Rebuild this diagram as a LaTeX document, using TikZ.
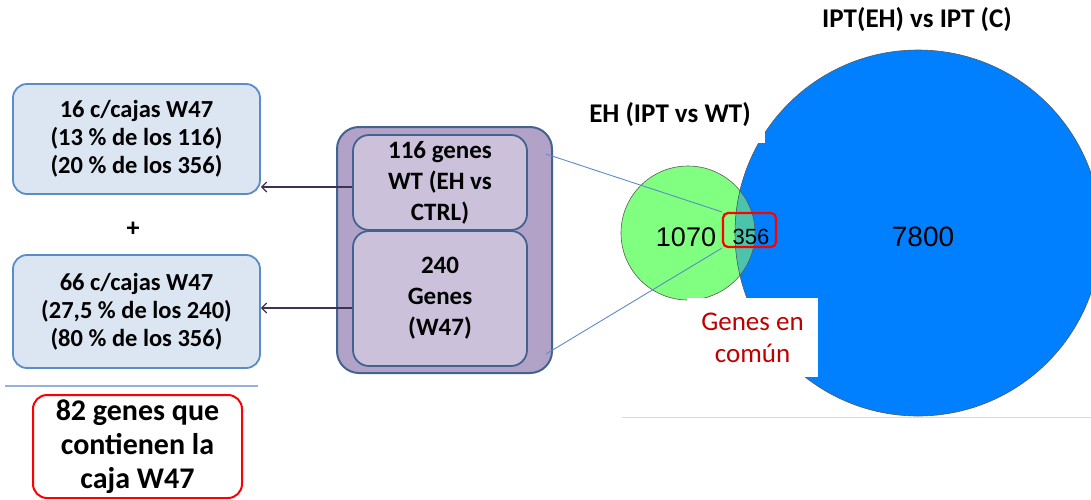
\documentclass[tikz,border=0pt]{standalone}
\usepackage{fontspec}
\setmainfont{Carlito}
\newfontfamily\arialf{Liberation Sans}
\usetikzlibrary{calc,arrows.meta}
\definecolor{bfill}{HTML}{DCE6F2}
\definecolor{bdraw}{HTML}{5B8CC8}
\definecolor{ofill}{HTML}{B3A2C7}
\definecolor{ifill}{HTML}{CCC1DA}
\definecolor{odraw}{HTML}{41638F}
\definecolor{arrc}{HTML}{3F3151}
\definecolor{vgreen}{HTML}{80FF80}
\definecolor{vblue}{HTML}{0080FF}
\definecolor{vteal}{HTML}{4CC4AC}
\definecolor{txtred}{HTML}{C00000}
\definecolor{sepline}{HTML}{95B3D7}
\tikzset{
  bluebox/.style={draw=bdraw, line width=1.8pt, fill=bfill, rounded corners=14pt, align=center,
    font=\fontsize{24.5}{28}\selectfont\bfseries, inner sep=0pt},
  redbox/.style={draw=red, line width=2pt, rounded corners=14pt, align=center,
    font=\fontsize{30}{34}\selectfont\bfseries, inner sep=0pt},
  outerbox/.style={draw=odraw, line width=2pt, fill=ofill, rounded corners=22pt},
  innerbox/.style={draw=odraw, line width=1.8pt, fill=ifill, rounded corners=16pt, align=center,
    font=\fontsize{25}{31}\selectfont\bfseries, inner sep=0pt},
  arr/.style={draw=arrc, line width=1.2pt, -{Straight Barb[length=5pt,width=10pt]}},
  thinblue/.style={draw=bdraw, line width=0.9pt},
  vnum/.style={font=\arialf\fontsize{27}{27}\selectfont, inner sep=0pt},
  ttl/.style={font=\fontsize{27}{27}\selectfont\bfseries, inner sep=0pt}
}
\begin{document}
\begin{tikzpicture}[x=1pt,y=-1pt]
\useasboundingbox (0,0) rectangle (1091,499);
% left boxes
\node[bluebox, minimum width=247pt, minimum height=110pt] (b1) at (136.5,139)
  {16 c/cajas W47\\(13 \% de los 116)\\(20 \% de los 356)};
\node[font=\fontsize{26}{26}\selectfont\bfseries, inner sep=0pt] (plus) at (133,229) {+};
\node[bluebox, minimum width=247pt, minimum height=113pt] (b2) at (136.5,311.5)
  {66 c/cajas W47\\(27,5 \% de los 240)\\(80 \% de los 356)};
\coordinate (s1) at (5,386);
\coordinate (s2) at (258,386);
\draw[sepline, line width=1.2pt] (s1) -- (s2);
\node[redbox, minimum width=209pt, minimum height=103pt] (r82) at (137.5,446.5)
  {82 genes que\\contienen la\\caja W47};
% purple group
\node[outerbox, minimum width=215pt, minimum height=246pt] (outer) at (444.5,250) {};
\node[innerbox, minimum width=174pt, minimum height=95pt] (in1) at (440,182.5)
  {116 genes\\WT (EH vs\\CTRL)};
\node[innerbox, minimum width=174pt, minimum height=135pt] (in2) at (440,298.5)
  {240\\Genes\\(W47)};
\coordinate (a1) at (0,187);
\coordinate (a2) at (0,308);
\draw[arr] (in1.west |- a1) -- (b1.east |- a1);
\draw[arr] (in2.west |- a2) -- (b2.east |- a2);
% venn
\coordinate (cg) at (688,233);
\coordinate (cb) at (918,233);
\fill[vgreen] (cg) circle (67);
\fill[vblue] (cb) circle (183);
\begin{scope}
  \clip (cg) circle (67);
  \fill[vteal] (cb) circle (183);
\end{scope}
\draw[gray!70!black, line width=0.6pt] (cg) circle (67);
\draw[gray!70!black, line width=0.6pt] (cb) circle (183);
\fill[white] (585,95) rectangle (764,143);
\draw[white, line width=1.2pt] (757,128) -- (764,128) -- (764,143);
\node[ttl] (t1) at (917,20) {IPT(EH) vs IPT (C)};
\node[ttl] (t2) at (670,115) {EH (IPT vs WT)};
\node[vnum] (n1070) at (686,237) {1070};
\node[vnum, font=\arialf\fontsize{22}{22}\selectfont] (n356) at (751,237) {356};
\node[vnum, font=\arialf\fontsize{28}{28}\selectfont] (n7800) at (923,237) {7800};
\node[draw=red, line width=2.2pt, rounded corners=5pt, minimum width=53pt, minimum height=34pt] (r356) at (749.5,230) {};
\draw[thinblue] ($(outer.north east)+(-7,28)$) -- (r356.north west);
\draw[thinblue] ($(outer.south east)+(-7,-20)$) -- (r356.south west);
\node[fill=white, minimum width=131pt, minimum height=79pt, align=center, text=txtred,
  font=\fontsize{27}{32}\selectfont, inner sep=0pt] (gc) at (752.5,337.5) {Genes en\\común};
\coordinate (g1) at (622,417);
\coordinate (g2) at (1091,417);
\draw[gray!30, line width=1pt] (g1) -- (g2);
\end{tikzpicture}
\end{document}
